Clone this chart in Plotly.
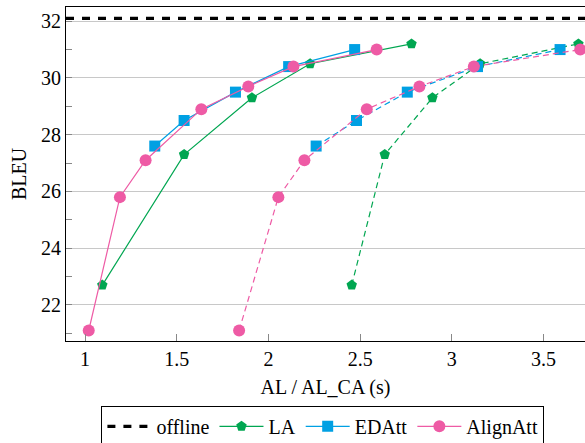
import plotly.graph_objects as go

# ---- data ----
OFFLINE_BLEU = 32.1

la_al = [1.094, 1.54, 1.91, 2.227, 2.78]
la_bleu = [22.7, 27.3, 29.3, 30.5, 31.2]
edatt_al = [1.38, 1.54, 1.82, 2.11, 2.47]
edatt_bleu = [27.6, 28.5, 29.5, 30.4, 31.0]
align_al = [1.02, 1.19, 1.33, 1.634, 1.89, 2.136, 2.59]
align_bleu = [21.1, 25.8, 27.1, 28.9, 29.7, 30.4, 31.0]

la_alca = [2.454, 2.634, 2.894, 3.154, 3.69]
la_ca_bleu = [22.7, 27.3, 29.3, 30.5, 31.2]
edatt_alca = [2.26, 2.48, 2.757, 3.14, 3.59]
edatt_ca_bleu = [27.6, 28.5, 29.5, 30.4, 31.0]
align_alca = [1.84, 2.054, 2.196, 2.536, 2.823, 3.12, 3.70]
align_ca_bleu = [21.1, 25.8, 27.1, 28.9, 29.7, 30.4, 31.0]

x_ticks = [1, 1.5, 2, 2.5, 3, 3.5]
x_tick_text = ["1", "1.5", "2", "2.5", "3", "3.5"]
y_ticks = [22, 24, 26, 28, 30, 32]
y_minor = [21, 23, 25, 27, 29, 31]

X_RANGE = [0.896, 3.726]
Y_RANGE = [20.73, 32.5]

GREEN = "#00A651"
BLUE = "#00A0E3"
PINK = "#EE5BA5"
FONT = "Liberation Serif, Times New Roman, serif"

fig = go.Figure()

fig.add_trace(go.Scatter(
    x=X_RANGE, y=[OFFLINE_BLEU, OFFLINE_BLEU], mode="lines", name="offline",
    line=dict(color="black", width=3.2, dash="8px,8px"), cliponaxis=False,
))

series = [
    ("LA", la_al, la_bleu, la_alca, la_ca_bleu, GREEN, "pentagon", 11),
    ("EDAtt", edatt_al, edatt_bleu, edatt_alca, edatt_ca_bleu, BLUE, "square", 11),
    ("AlignAtt", align_al, align_bleu, align_alca, align_ca_bleu, PINK, "circle", 12),
]

for name, x1, y1, x2, y2, col, sym, size in series:
    fig.add_trace(go.Scatter(
        x=x2, y=y2, mode="lines+markers", name=name, showlegend=False,
        line=dict(color=col, width=1.2, dash="6px,4px"),
        marker=dict(symbol=sym, size=size, color=col, line=dict(width=0)),
    ))

for name, x1, y1, x2, y2, col, sym, size in series:
    fig.add_trace(go.Scatter(
        x=x1, y=y1, mode="lines+markers", name=name,
        line=dict(color=col, width=1.2),
        marker=dict(symbol=sym, size=size, color=col, line=dict(width=0)),
    ))

# figure is a little taller than the 443px window so the legend box is cut
# off at the bottom edge, as in the reference
fig.update_layout(
    width=585, height=470,
    margin=dict(l=66, r=0, t=7, b=129),
    paper_bgcolor="white", plot_bgcolor="white",
    font=dict(family=FONT, size=20, color="black"),
    showlegend=True,
    legend=dict(
        orientation="h", x=0.495, xanchor="center", y=-0.194, yanchor="top",
        bordercolor="black", borderwidth=1, bgcolor="white",
        font=dict(family=FONT, size=20), itemwidth=44,
        traceorder="normal",
    ),
    xaxis=dict(
        range=X_RANGE, tickvals=x_ticks, ticktext=x_tick_text,
        tickfont=dict(family=FONT, size=20),
        ticks="inside", ticklen=7, tickcolor="#888", showgrid=False,
        showline=True, linecolor="black", linewidth=1.2, mirror=True,
        zeroline=False, automargin=False,
        title=dict(text="AL / AL_CA (s)", font=dict(family=FONT, size=20), standoff=10),
    ),
    yaxis=dict(
        range=Y_RANGE, tickvals=y_ticks,
        tickfont=dict(family=FONT, size=20),
        ticks="inside", ticklen=6, tickcolor="#888",
        showgrid=True, gridcolor="#c8c8c8", gridwidth=1.2,
        showline=True, linecolor="black", linewidth=1.2, mirror=False,
        zeroline=False, automargin=False,
        minor=dict(tickvals=y_minor, ticks="inside", ticklen=6, tickcolor="#888", showgrid=False),
        title=dict(text="BLEU", font=dict(family=FONT, size=20), standoff=8),
    ),
)

fig.write_html(
    "out.html", config={"displayModeBar": False},
    post_script=("document.body.style.margin='0px';"
                 "document.body.style.overflow='hidden';"
                 "document.documentElement.style.overflow='hidden';"),
)
